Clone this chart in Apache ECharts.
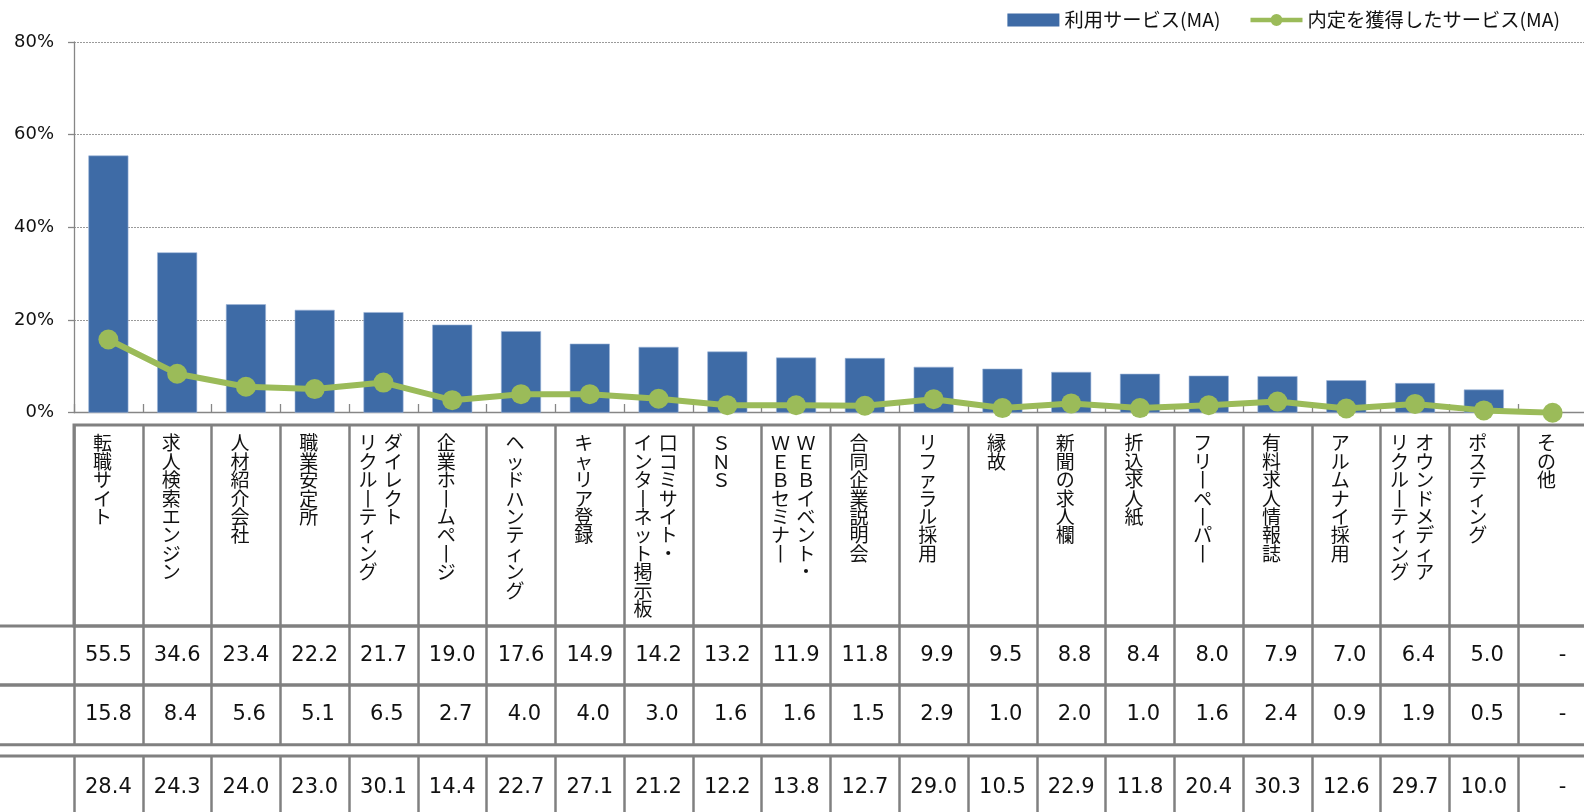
<!DOCTYPE html>
<html><head><meta charset="utf-8">
<script src="https://cdn.jsdelivr.net/npm/echarts@6/dist/echarts.min.js"></script>
<style>html,body{margin:0;padding:0;background:#fff}#c{width:1584px;height:812px}</style>
</head><body><div id="c"></div>
<script>
// ---- data ----
const categories = ['転職サイト', '求人検索エンジン', '人材紹介会社', '職業安定所', 'ダイレクト\nリクルーティング',
  '企業ホームページ', 'ヘッドハンティング', 'キャリア登録', '口コミサイト・\nインターネット掲示板', 'SNS',
  'WEBイベント・\nWEBセミナー', '合同企業説明会', 'リファラル採用', '縁故', '新聞の求人欄', '折込求人紙',
  'フリーペーパー', '有料求人情報誌', 'アルムナイ採用', 'オウンドメディア\nリクルーティング', 'ポスティング', 'その他'];
const usageMA = [55.5, 34.6, 23.4, 22.2, 21.7, 19.0, 17.6, 14.9, 14.2, 13.2, 11.9, 11.8, 9.9, 9.5, 8.8, 8.4, 8.0, 7.9, 7.0, 6.4, 5.0, null];
const offerMA = [15.8, 8.4, 5.6, 5.1, 6.5, 2.7, 4.0, 4.0, 3.0, 1.6, 1.6, 1.5, 2.9, 1.0, 2.0, 1.0, 1.6, 2.4, 0.9, 1.9, 0.5, null];
const offerRatio = [28.4, 24.3, 24.0, 23.0, 30.1, 14.4, 22.7, 27.1, 21.2, 12.2, 13.8, 12.7, 29.0, 10.5, 22.9, 11.8, 20.4, 30.3, 12.6, 29.7, 10.0, null];
const seriesNames = ['利用サービス(MA)', '内定を獲得したサービス(MA)'];
const yTickLabels = ['0%', '20%', '40%', '60%', '80%'];

// ---- layout / style ----
const LEFT = 74, WIDTH = 1513;
const GRID_COLOR = '#808080';
const JP = 'Noto Sans CJK JP';
const NUM = 'DejaVu Sans';

function toVert(ch) {
  if (ch === 'ー') return '丨';
  const c = ch.charCodeAt(0);
  if (c >= 0x21 && c <= 0x7e) return String.fromCharCode(c + 0xFEE0);
  return ch;
}
function vertLabel(label) {
  const cols = label.split('\n').map(s => Array.from(s).map(toVert));
  const n = Math.max(...cols.map(c => c.length));
  const lines = [];
  for (let i = 0; i < n; i++) {
    if (cols.length === 1) lines.push('{c|' + cols[0][i] + '}');
    else lines.push('{a|' + (cols[1][i] || '　') + '}{c|' + (cols[0][i] || '　') + '}');
  }
  return lines.join('\n');
}
function fmt(v) {
  if (v == null) return '   -';
  return (v < 10 ? ' ' : '') + v.toFixed(1);
}

const grids = [
  { left: LEFT, width: WIDTH, top: 42, height: 370.7 },                      // 0 chart
  { left: LEFT, width: WIDTH, top: 425, height: 201, show: true },           // 1 label row
  { left: -10, right: -10, top: 626, height: 59, show: true },               // 2 row frame
  { left: -10, right: -10, top: 685, height: 59.7, show: true },             // 3 row frame
  { left: -10, right: -10, top: 756, height: 80, show: true },               // 4 row frame
  { left: LEFT, width: WIDTH, top: 626, height: 59 },                        // 5 cells usage
  { left: LEFT, width: WIDTH, top: 685, height: 59.7 },                      // 6 cells offer
  { left: LEFT, width: WIDTH, top: 756, height: 63 }                         // 7 cells ratio
].map(g => Object.assign({ containLabel: false, outerBoundsMode: 'none', borderColor: GRID_COLOR, borderWidth: 3, backgroundColor: 'transparent' }, g));

const xAxes = [], yAxes = [];
// chart axes
xAxes.push({
  type: 'category', gridIndex: 0, data: categories, boundaryGap: true,
  axisLine: { show: true, lineStyle: { color: '#868686', width: 1.3 } },
  axisTick: { show: true, inside: true, length: 8.7, interval: 0, lineStyle: { color: '#868686', width: 1.3 } },
  axisLabel: { show: false }, splitLine: { show: false }
});
yAxes.push({
  type: 'value', gridIndex: 0, min: 0, max: 80, interval: 20,
  axisLine: { show: true, lineStyle: { color: '#868686', width: 1.3 } },
  axisTick: { show: true, length: 6, lineStyle: { color: '#868686', width: 1.3 } },
  axisLabel: { margin: 20, fontSize: 18, fontFamily: NUM, color: '#111', formatter: (v, i) => yTickLabels[i] },
  splitLine: { show: true, lineStyle: { color: '#9a9a9a', width: 1, type: [2, 1] } }
});
// label row
xAxes.push({
  type: 'category', gridIndex: 1, data: categories, position: 'top', boundaryGap: true,
  axisLine: { show: false }, axisTick: { show: false },
  splitLine: { show: true, interval: 0, lineStyle: { color: GRID_COLOR, width: 2.5 } },
  axisLabel: {
    inside: true, margin: 9, interval: 0, verticalAlign: 'top', align: 'center',
    padding: [0, 12, 0, 0],
    formatter: (v) => vertLabel(v),
    rich: {
      a: { width: 31.6, fontSize: 19, lineHeight: 18.4, fontFamily: JP, color: '#111' },
      c: { fontSize: 19, lineHeight: 18.4, fontFamily: JP, color: '#111' }
    }
  }
});
yAxes.push({ type: 'value', gridIndex: 1, show: false });
// frame grids
[2, 3, 4].forEach(g => {
  xAxes.push({ type: 'value', gridIndex: g, show: false, splitLine: { show: false } });
  yAxes.push({ type: 'value', gridIndex: g, show: false, splitLine: { show: false } });
});
// cell rows
[[5, usageMA, 59], [6, offerMA, 59.7], [7, offerRatio, 63]].forEach(([g, arr, h]) => {
  xAxes.push({
    type: 'category', gridIndex: g, data: categories, position: 'top', boundaryGap: true,
    axisLine: { show: false }, axisTick: { show: false },
    splitLine: { show: true, interval: 0, lineStyle: { color: GRID_COLOR, width: 2.5 } },
    axisLabel: {
      inside: true, margin: h / 2, interval: 0, verticalAlign: 'middle', align: 'center',
      fontSize: 21, fontFamily: NUM, color: '#111',
      formatter: (v, i) => fmt(arr[i])
    }
  });
  yAxes.push({ type: 'value', gridIndex: g, show: false, splitLine: { show: false } });
});

const lineIcon = 'path://M0,4.2L52,4.2L52,8.8L0,8.8Z M20,6.5a6,6 0 1,1 12,0a6,6 0 1,1 -12,0Z';

const option = {
  animation: false,
  backgroundColor: '#fff',
  textStyle: { fontFamily: JP },
  legend: {
    show: true, right: 24, top: 10, padding: 0, itemGap: 30, itemWidth: 52, itemHeight: 13,
    textStyle: { fontSize: 19.3, lineHeight: 20, fontFamily: JP, color: '#111' },
    data: [
      { name: seriesNames[0], icon: 'rect', itemStyle: { borderWidth: 0 } },
      { name: seriesNames[1], icon: lineIcon }
    ]
  },
  grid: grids,
  xAxis: xAxes,
  yAxis: yAxes,
  series: [
    {
      name: seriesNames[0], type: 'bar', xAxisIndex: 0, yAxisIndex: 0, barWidth: 40,
      itemStyle: { color: '#3E6BA6', borderColor: '#9db5d8', borderWidth: 0.6 },
      data: usageMA
    },
    {
      name: seriesNames[1], type: 'line', xAxisIndex: 0, yAxisIndex: 0,
      symbol: 'circle', symbolSize: 20, showAllSymbol: true,
      itemStyle: { color: '#9BBB59' }, lineStyle: { color: '#9BBB59', width: 6 },
      data: offerMA.map(v => v == null ? 0 : v)
    }
  ]
};
const chart = echarts.init(document.getElementById('c'), null, { renderer: 'canvas' });
chart.setOption(option);
</script></body></html>
